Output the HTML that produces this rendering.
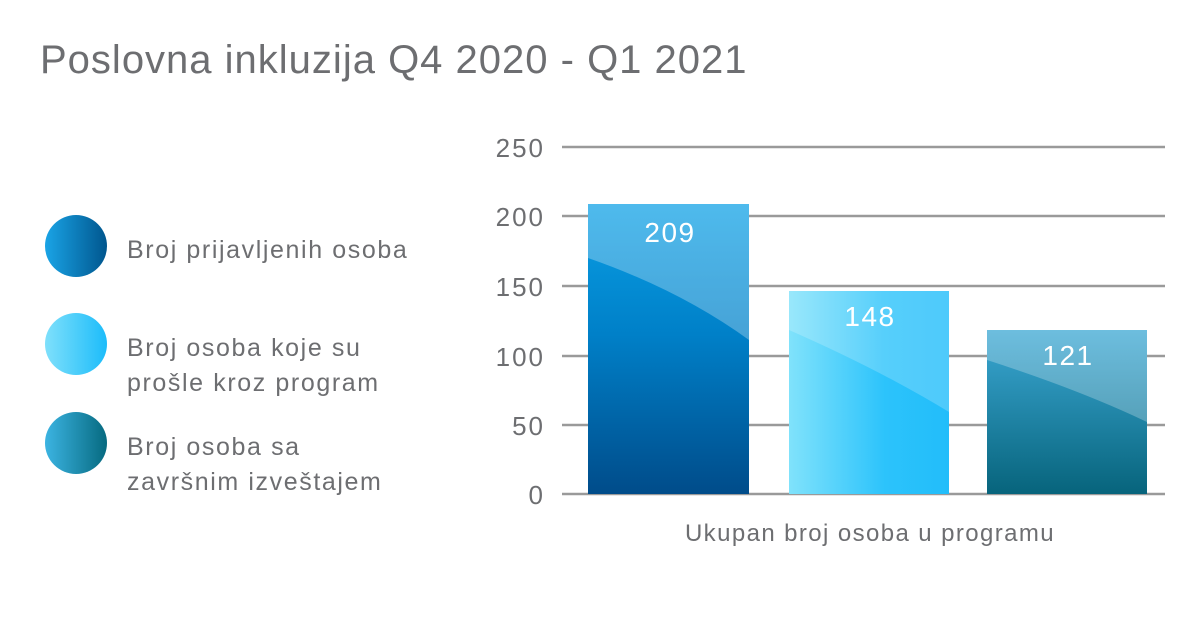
<!DOCTYPE html>
<html><head><meta charset="utf-8"><style>
body{margin:0;background:#fff;}
svg text{font-family:"Liberation Sans",sans-serif;}
</style></head><body>
<svg width="1201" height="629" viewBox="0 0 1201 629" xmlns="http://www.w3.org/2000/svg">
<defs>
<linearGradient id="b1" x1="0" y1="0" x2="0" y2="1"><stop offset="0" stop-color="#0aa0e6"/><stop offset="0.45" stop-color="#0080c8"/><stop offset="1" stop-color="#004c8a"/></linearGradient>
<linearGradient id="b2" x1="0" y1="0" x2="1" y2="0"><stop offset="0" stop-color="#80e2fb"/><stop offset="0.6" stop-color="#2cc3fb"/><stop offset="1" stop-color="#22bdfa"/></linearGradient>
<linearGradient id="b3" x1="0" y1="0" x2="0" y2="1"><stop offset="0" stop-color="#3ca8d4"/><stop offset="1" stop-color="#07647c"/></linearGradient>
<linearGradient id="c1" x1="0" y1="0" x2="1" y2="0"><stop offset="0" stop-color="#1aa4e6"/><stop offset="1" stop-color="#00568e"/></linearGradient>
<linearGradient id="c2" x1="0" y1="0" x2="1" y2="0"><stop offset="0" stop-color="#7fe0fb"/><stop offset="1" stop-color="#1cbcfa"/></linearGradient>
<linearGradient id="c3" x1="0" y1="0" x2="1" y2="0"><stop offset="0" stop-color="#3cb4e2"/><stop offset="1" stop-color="#066a80"/></linearGradient>
</defs>
<text x="40" y="73" font-size="40" letter-spacing="1" fill="#6d6e71">Poslovna inkluzija Q4 2020 - Q1 2021</text>
<g stroke="#9a9a9a" stroke-width="2.5">
<line x1="562" y1="147" x2="1165" y2="147"/>
<line x1="562" y1="216" x2="1165" y2="216"/>
<line x1="562" y1="286" x2="1165" y2="286"/>
<line x1="562" y1="356" x2="1165" y2="356"/>
<line x1="562" y1="425" x2="1165" y2="425"/>
<line x1="562" y1="494" x2="1165" y2="494"/>
</g>
<g font-size="26" letter-spacing="2" fill="#6d6e71" text-anchor="end">
<text x="545" y="157">250</text><text x="545" y="226">200</text><text x="545" y="296">150</text>
<text x="545" y="366">100</text><text x="545" y="435">50</text><text x="545" y="504">0</text>
</g>
<rect x="588" y="204" width="161" height="290" fill="url(#b1)"/>
<path d="M588 204H749V340Q680 290 588 258Z" fill="#fff" opacity="0.28"/>
<rect x="789" y="291" width="160" height="203" fill="url(#b2)"/>
<path d="M789 291H949V412Q880 370 789 330Z" fill="#fff" opacity="0.2"/>
<rect x="987" y="330" width="160" height="164" fill="url(#b3)"/>
<path d="M987 330H1147V422Q1080 390 987 360Z" fill="#fff" opacity="0.25"/>
<g font-size="28" letter-spacing="1.5" fill="#fff" text-anchor="middle">
<text x="670" y="242">209</text><text x="870" y="326">148</text><text x="1068" y="365">121</text>
</g>
<text x="870" y="541" font-size="24" letter-spacing="1.4" fill="#6d6e71" text-anchor="middle">Ukupan broj osoba u programu</text>
<circle cx="76" cy="246" r="31" fill="url(#c1)"/>
<circle cx="76" cy="344" r="31" fill="url(#c2)"/>
<circle cx="76" cy="443" r="31" fill="url(#c3)"/>
<g font-size="25" letter-spacing="1.6" fill="#6d6e71">
<text x="127" y="258">Broj prijavljenih osoba</text>
<text x="127" y="356">Broj osoba koje su</text>
<text x="127" y="391">prošle kroz program</text>
<text x="127" y="455">Broj osoba sa</text>
<text x="127" y="490">završnim izveštajem</text>
</g>
</svg>
</body></html>
